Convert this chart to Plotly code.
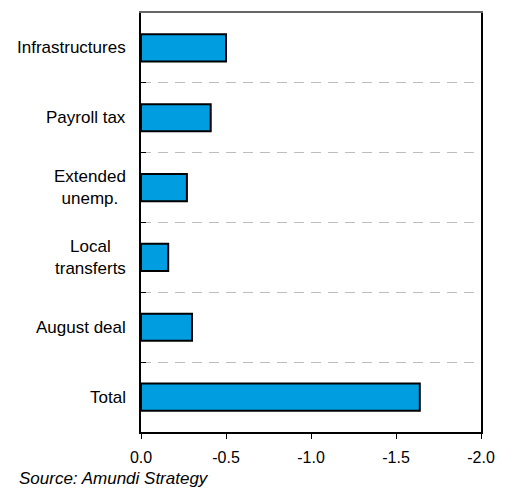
import plotly.graph_objects as go

# Fiscal measures (% of GDP), listed top to bottom
categories = ["Infrastructures", "Payroll tax", "Extended<br>unemp.", "Local<br>transferts", "August deal", "Total"]
values = [-0.50, -0.41, -0.27, -0.16, -0.30, -1.64]
x_ticks = [0.0, -0.5, -1.0, -1.5, -2.0]
x_tick_labels = ["0.0", "-0.5", "-1.0", "-1.5", "-2.0"]

positions = list(range(len(categories)))
boundaries = [p + 0.5 for p in positions[:-1]]

FONT = "Liberation Sans, Arial, sans-serif"

fig = go.Figure()
fig.add_trace(go.Bar(
    x=values,
    y=positions,
    orientation="h",
    width=0.39,
    marker=dict(color="#009EE0", line=dict(color="#000000", width=2)),
    hoverinfo="skip",
))

# empty trace so the top axis is drawn
fig.add_trace(go.Scatter(x=[], y=[], xaxis="x2", hoverinfo="skip"))

fig.update_layout(
    width=513,
    height=488,
    margin=dict(l=141, r=32, t=13, b=56),
    paper_bgcolor="white",
    plot_bgcolor="white",
    showlegend=False,
    font=dict(family=FONT, size=16, color="#000000"),
    xaxis=dict(
        range=[0, -2.0],
        tickvals=x_ticks,
        ticktext=x_tick_labels,
        ticks="outside",
        ticklen=5,
        tickcolor="#000000",
        ticklabelstandoff=5,
        showgrid=False,
        zeroline=False,
        showline=True,
        linecolor="#000000",
        linewidth=1.5,
        tickfont=dict(size=16),
    ),
    xaxis2=dict(
        overlaying="x",
        side="top",
        range=[0, -2.0],
        showline=True,
        linecolor="#666666",
        linewidth=1.5,
        showticklabels=False,
        ticks="",
        showgrid=False,
        zeroline=False,
    ),
    yaxis=dict(
        range=[len(categories) - 0.5, -0.5],
        tickvals=positions,
        showticklabels=False,
        ticks="",
        showgrid=False,
        zeroline=False,
        showline=True,
        mirror=True,
        linecolor="#000000",
        linewidth=1.5,
        minor=dict(
            tickvals=boundaries,
            ticks="inside",
            ticklen=5,
            tickcolor="#000000",
            showgrid=True,
            gridcolor="#BDBDBD",
            griddash="10px,7px",
            gridwidth=1,
        ),
    ),
)

# Category labels, centred line by line and right-aligned to the axis
for pos, label in zip(positions, categories):
    fig.add_annotation(
        text=label,
        xref="paper", yref="y",
        x=-13 / 340, y=pos,
        xanchor="right", yanchor="middle",
        align="center",
        showarrow=False,
        font=dict(family=FONT, size=17, color="#000000"),
    )

fig.add_annotation(
    text="Source: Amundi Strategy",
    xref="paper", yref="paper",
    x=(17 - 141) / 340, y=-46 / 419,
    xanchor="left", yanchor="middle",
    showarrow=False,
    font=dict(family=FONT, size=17, color="#000000", style="italic"),
)

fig.write_html("out.html")
